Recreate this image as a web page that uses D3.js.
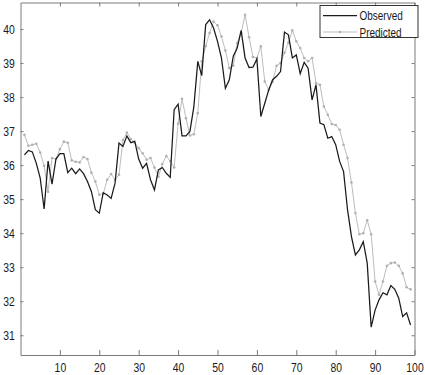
<!DOCTYPE html>
<html>
<head>
<meta charset="utf-8">
<script src="https://cdn.jsdelivr.net/npm/d3@7"></script>
<style>
  body { margin: 0; background: #fff; }
  text { font-family: "Liberation Sans", Arial, sans-serif; }
</style>
</head>
<body>
<div id="chart"></div>
<script>
// data, index 1..99
const observed = [
    36.30, 36.43, 36.39, 36.06, 35.62, 34.71, 36.12, 35.44, 36.18, 36.34,
    36.34, 35.78, 35.91, 35.75, 35.89, 35.75, 35.52, 35.22, 34.69, 34.59,
    35.19, 35.12, 35.02, 35.47, 36.65, 36.55, 36.86, 36.66, 36.70, 36.18,
    35.91, 36.05, 35.57, 35.27, 35.86, 35.93, 35.76, 35.64, 37.63, 37.79,
    36.86, 36.86, 36.99, 37.72, 39.05, 38.63, 40.13, 40.27, 40.03, 39.64,
    39.15, 38.26, 38.51, 39.20, 39.44, 39.96, 39.15, 38.87, 38.88, 39.12,
    37.43, 37.82, 38.21, 38.51, 38.61, 38.75, 39.91, 39.83, 39.15, 39.24,
    38.69, 39.02, 38.85, 37.92, 38.36, 37.24, 37.19, 36.79, 36.84, 36.60,
    36.11, 35.81, 34.69, 33.90, 33.36, 33.51, 33.75, 33.12, 31.24, 31.74,
    32.04, 32.25, 32.19, 32.46, 32.35, 32.09, 31.55, 31.66, 31.30
];
const predicted = [
    36.89, 36.57, 36.60, 36.63, 36.37, 35.98, 35.22, 36.21, 36.18, 36.47,
    36.69, 36.66, 36.14, 36.10, 36.08, 36.24, 36.18, 35.78, 35.52, 35.13,
    35.16, 35.57, 35.74, 35.57, 35.72, 36.74, 36.96, 36.77, 36.66, 36.50,
    36.35, 36.16, 36.21, 35.93, 35.66, 36.03, 36.27, 36.12, 35.93, 37.22,
    37.95, 37.38, 36.87, 36.91, 37.53, 39.05, 39.50, 39.88, 40.22, 40.11,
    39.78, 39.37, 38.85, 38.92, 39.59, 39.88, 40.42, 39.76, 39.18, 39.15,
    39.49, 38.46, 38.21, 38.45, 38.92, 39.00, 39.30, 39.60, 39.96, 39.64,
    39.44, 39.15, 39.05, 39.15, 38.41, 38.36, 37.72, 37.48, 37.21, 37.18,
    37.04, 36.60, 36.21, 35.49, 34.59, 33.97, 34.00, 34.38, 33.97, 32.58,
    32.19, 32.58, 33.04, 33.12, 33.14, 33.04, 32.82, 32.41, 32.35
];
const xTicks = [10, 20, 30, 40, 50, 60, 70, 80, 90, 100];
const yTicks = [31, 32, 33, 34, 35, 36, 37, 38, 39, 40];
const seriesNames = ["Observed", "Predicted"];

const width = 425, height = 375;
const plotLeft = 20.5, plotRight = 414.5, plotTop = 2.5, plotBottom = 355;
const squeeze = "scale(0.8,1)"; // the labels in the picture are narrow

const svg = d3.select("#chart").append("svg")
    .attr("width", width)
    .attr("height", height);

const x = d3.scaleLinear().domain([0, 100]).range([plotLeft, plotRight]);
const y = d3.scaleLinear().domain([30.42, 40.78]).range([plotBottom, plotTop]);

const axisColor = "#7a7a7a";

// box axes with inward ticks, like matlab
const styleAxis = g => {
    g.select(".domain").attr("stroke", axisColor);
    g.selectAll(".tick line").attr("stroke", axisColor);
    g.selectAll(".tick text")
        .attr("fill", "#1a1a1a")
        .attr("font-size", "13px")
        .attr("transform", squeeze);
};

svg.append("g")
    .attr("transform", `translate(0,${plotBottom})`)
    .call(d3.axisBottom(x).tickValues(xTicks).tickSizeInner(-5).tickSizeOuter(0).tickPadding(7.5))
    .call(styleAxis);

svg.append("g")
    .attr("transform", `translate(0,${plotTop})`)
    .call(d3.axisTop(x).tickValues(xTicks).tickSizeInner(-4).tickSizeOuter(0).tickFormat(""))
    .call(styleAxis);

svg.append("g")
    .attr("transform", `translate(${plotLeft},0)`)
    .call(d3.axisLeft(y).tickValues(yTicks).tickSizeInner(-3).tickSizeOuter(0).tickPadding(7))
    .call(styleAxis);

svg.append("g")
    .attr("transform", `translate(${plotRight},0)`)
    .call(d3.axisRight(y).tickValues(yTicks).tickSizeInner(-3).tickSizeOuter(0).tickFormat(""))
    .call(styleAxis);

const line = d3.line()
    .x((d, i) => x(i + 1))
    .y(d => y(d));

// predicted under observed
svg.append("path")
    .datum(predicted)
    .attr("fill", "none")
    .attr("stroke", "#bdbdbd")
    .attr("stroke-width", 1)
    .attr("d", line);

svg.append("g")
    .selectAll("circle")
    .data(predicted)
    .join("circle")
    .attr("cx", (d, i) => x(i + 1))
    .attr("cy", d => y(d))
    .attr("r", 1.3)
    .attr("fill", "#b0b0b0");

svg.append("path")
    .datum(observed)
    .attr("fill", "none")
    .attr("stroke", "#1a1a1a")
    .attr("stroke-width", 1.25)
    .attr("d", line);

// legend
const legend = svg.append("g").attr("transform", "translate(320,5.5)");
legend.append("rect")
    .attr("width", 98)
    .attr("height", 32)
    .attr("fill", "#fff")
    .attr("stroke", "#333")
    .attr("stroke-width", 1);

seriesNames.forEach((name, i) => {
    const ly = 10 + i * 16.5;
    legend.append("line")
        .attr("x1", 3).attr("x2", 37)
        .attr("y1", ly).attr("y2", ly)
        .attr("stroke", i === 0 ? "#1a1a1a" : "#bdbdbd")
        .attr("stroke-width", i === 0 ? 1.25 : 1);
    if (i === 1) {
        legend.append("circle")
            .attr("cx", 20).attr("cy", ly).attr("r", 1.3)
            .attr("fill", "#b0b0b0");
    }
    legend.append("text")
        .attr("transform", `translate(39.5,${ly + 4.5}) ${squeeze}`)
        .attr("font-size", "12.5px")
        .attr("fill", "#1a1a1a")
        .text(name);
});
</script>
</body>
</html>
